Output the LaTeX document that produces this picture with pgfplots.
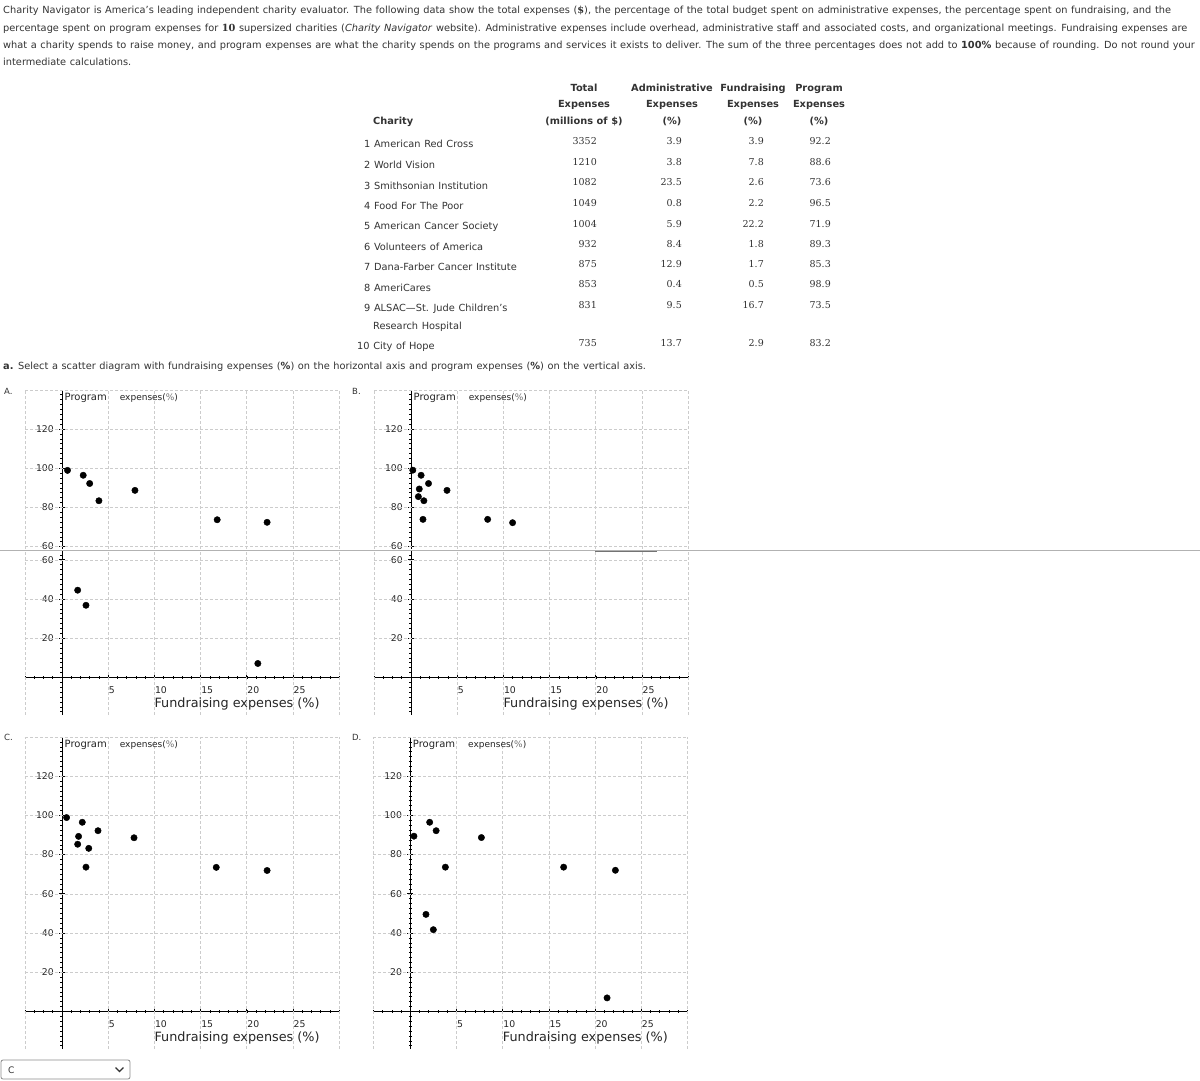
\documentclass[border=0pt]{standalone}
\usepackage{pgfplots}
\pgfplotsset{compat=1.18}
\usepackage{fontspec}
\setmainfont{DejaVu Sans}
\newfontfamily\numfont{DejaVu Serif}
\newcommand\bodyfont{\fontsize{9.8}{11}\selectfont\spaceskip=3.6pt plus 1pt minus 0.5pt\relax}
\newcommand\tickfont{\fontsize{9.3}{10}\selectfont}
\definecolor{txt}{HTML}{333333}
\definecolor{gridc}{HTML}{CCCCCC}

% grid helpers, drawn inside an axis
\newcommand\vgrid[2]{\pgfplotsinvokeforeach{-4,5,10,15,20,25,30}{\draw[gl] (axis cs:##1,#1) -- (axis cs:##1,#2);}}
\newcommand\hgrid[1]{\pgfplotsinvokeforeach{#1}{\draw[gl] (axis cs:-4,##1) -- (axis cs:30,##1);}}
\newcommand\xlab{\node[anchor=north west, inner sep=0pt, font=\fontsize{12.8}{14}\selectfont, text=black!85]
  at (axis cs:10,0) [yshift=-20pt] {Fundraising expenses (\%)};}
\newcommand\ylab{\node[anchor=west, inner sep=0pt, text=black!85]
  at (axis cs:0,136) [xshift=2.5pt] {{\fontsize{10}{10}\selectfont Program}\hspace{13pt}{\fontsize{9}{10}\selectfont expenses(\textcolor{black!55}{\%})}};}

\pgfplotsset{
  sc/.style={
    x=9.24pt, y=1.96pt, xmin=-4, xmax=30,
    anchor=north west,
    axis lines=middle, clip=false,
    axis line style={black, line width=0.8pt},
    every inner x axis line/.append style={-},
    every inner y axis line/.append style={-},
    tick align=center, major tick length=6pt, minor tick length=3pt,
    major tick style={black, line width=0.7pt},
    minor tick style={black, line width=0.5pt},
    /pgf/number format/assume math mode=true,
    ticklabel style={font=\tickfont, text=black!85, inner sep=0pt},
    xticklabel style={anchor=north west, yshift=-6pt, xshift=0.5pt},
    yticklabel style={anchor=east, xshift=-5pt},
    minor ytick={-17.5,-15,...,137.5},
  },
  xfull/.style={xtick={5,10,...,25}, minor xtick={-4,-3,...,30}},
  xnone/.style={xtick=\empty, x axis line style={draw=none}},
  dots/.style={only marks, mark=*, mark size=3.2pt, black},
}
\tikzset{
  gl/.style={gridc, line width=0.6pt, dash pattern=on 3pt off 2pt},
  t/.style={inner sep=0pt, text=txt, font=\bodyfont},
}

\begin{document}
\begin{tikzpicture}
\fill[white] (0,0) rectangle (1200pt,-1080pt);
\useasboundingbox (0,0) rectangle (1200pt,-1080pt);

% intro text
\node[t, anchor=base west] at (3pt,-13pt) {Charity Navigator is America’s leading independent charity evaluator. The following data show the total expenses ({\numfont\bfseries\$}), the percentage of the total budget spent on administrative expenses, the percentage spent on fundraising, and the};
\node[t, anchor=base west] at (3pt,-31pt) {percentage spent on program expenses for {\numfont\bfseries 10} supersized charities (\textit{Charity Navigator} website). Administrative expenses include overhead, administrative staff and associated costs, and organizational meetings. Fundraising expenses are};
\node[t, anchor=base west] at (3pt,-48.5pt) {what a charity spends to raise money, and program expenses are what the charity spends on the programs and services it exists to deliver. The sum of the three percentages does not add to \textbf{100\%} because of rounding. Do not round your};
\node[t, anchor=base west] at (3pt,-65.5pt) {intermediate calculations.};

% table header
\begin{scope}[every node/.style={t, font=\bodyfont\bfseries, anchor=base}]
\node at (584pt,-91pt) {Total};
\node at (584pt,-107pt) {Expenses};
\node at (584pt,-124.5pt) {(millions of \$)};
\node at (672pt,-91pt) {Administrative};
\node at (672pt,-107pt) {Expenses};
\node at (672pt,-124.5pt) {(\%)};
\node at (753pt,-91pt) {Fundraising};
\node at (753pt,-107pt) {Expenses};
\node at (753pt,-124.5pt) {(\%)};
\node at (819pt,-91pt) {Program};
\node at (819pt,-107pt) {Expenses};
\node at (819pt,-124.5pt) {(\%)};
\node[anchor=base west] at (373pt,-124.5pt) {Charity};
\end{scope}

% charity names
\foreach \yb/\nm in {147.5/1 American Red Cross, 168.5/2 World Vision, 189.5/3 Smithsonian Institution,
  209.5/4 Food For The Poor, 229.5/5 American Cancer Society, 250.5/6 Volunteers of America,
  270.5/7 Dana-Farber Cancer Institute, 291.5/8 AmeriCares, 311.5/9 ALSAC—St. Jude Children’s}
  \node[t, anchor=base west] at (364pt,-\yb pt) {\nm};
\node[t, anchor=base west] at (373pt,-329.5pt) {Research Hospital};
\node[t, anchor=base west] at (357pt,-349.5pt) {10 City of Hope};

% table values
\foreach \yb/\tot/\adm/\fun/\pro in {144.5/3352/3.9/3.9/92.2, 165.5/1210/3.8/7.8/88.6, 185.5/1082/23.5/2.6/73.6,
  206.5/1049/0.8/2.2/96.5, 227.5/1004/5.9/22.2/71.9, 247.5/932/8.4/1.8/89.3, 267.5/875/12.9/1.7/85.3,
  287.5/853/0.4/0.5/98.9, 308.5/831/9.5/16.7/73.5, 346.5/735/13.7/2.9/83.2}
{
  \node[t, font=\numfont\fontsize{9.5}{11}\selectfont, anchor=base east] at (597pt,-\yb pt) {\tot};
  \node[t, font=\numfont\fontsize{9.5}{11}\selectfont, anchor=base east] at (682pt,-\yb pt) {\adm};
  \node[t, font=\numfont\fontsize{9.5}{11}\selectfont, anchor=base east] at (764pt,-\yb pt) {\fun};
  \node[t, font=\numfont\fontsize{9.5}{11}\selectfont, anchor=base east] at (831pt,-\yb pt) {\pro};
}

\node[t, anchor=base west] at (3pt,-369pt) {\textbf{a.} Select a scatter diagram with fundraising expenses (\textbf{\%}) on the horizontal axis and program expenses (\textbf{\%}) on the vertical axis.};

% option letters
\node[t, font=\fontsize{8.5}{10}\selectfont, anchor=west] at (4pt,-391pt) {A.};
\node[t, font=\fontsize{8.5}{10}\selectfont, anchor=west] at (352pt,-391pt) {B.};
\node[t, font=\fontsize{8.5}{10}\selectfont, anchor=west] at (4pt,-737pt) {C.};
\node[t, font=\fontsize{8.5}{10}\selectfont, anchor=west] at (352pt,-737pt) {D.};

% ---- A (upper part)
\begin{axis}[sc, xnone, at={(25pt,-389.8pt)}, ymin=58.8, ymax=140, ytick={60,80,...,120}]
  \vgrid{58.8}{140}
  \hgrid{60,80,...,140}
  \addplot[dots] coordinates {(0.6,98.9) (2.3,96.4) (3.0,92.2) (4.0,83.4) (7.9,88.7) (16.8,73.7) (22.2,72.4)};
  \ylab
\end{axis}
% ---- A (lower part)
\begin{axis}[sc, xfull, at={(25pt,-550pt)}, ymin=-19, ymax=65, ytick={20,40,60}]
  \vgrid{-19}{65}
  \hgrid{20,40,60}
  \addplot[dots] coordinates {(1.7,44.5) (2.6,36.8) (21.2,7.1)};
  \xlab
\end{axis}

% ---- B (upper part)
\begin{axis}[sc, xnone, at={(374pt,-389.8pt)}, ymin=58.8, ymax=140, ytick={60,80,...,120}]
  \vgrid{58.8}{140}
  \hgrid{60,80,...,140}
  \addplot[dots] coordinates {(0.2,99.0) (1.1,96.4) (1.9,92.2) (0.9,89.4) (0.8,85.5) (1.4,83.4)
    (3.9,88.7) (1.3,73.9) (8.3,73.9) (11.0,72.2)};
  \ylab
\end{axis}
% ---- B (lower part)
\begin{axis}[sc, xfull, at={(374pt,-550pt)}, ymin=-19, ymax=65, ytick={20,40,60}]
  \vgrid{-19}{65}
  \hgrid{20,40,60}
  \xlab
\end{axis}

% ---- C
\begin{axis}[sc, xfull, at={(25pt,-737pt)}, ymin=-19, ymax=140, ytick={20,40,...,120}]
  \vgrid{-19}{140}
  \hgrid{20,40,...,140}
  \addplot[dots] coordinates {(3.9,92.2) (7.8,88.6) (2.6,73.6) (2.2,96.5) (22.2,71.9)
    (1.8,89.3) (1.7,85.3) (0.5,98.9) (16.7,73.5) (2.9,83.2)};
  \ylab
  \xlab
\end{axis}

% ---- D
\begin{axis}[sc, xfull, at={(373.3pt,-737pt)}, ymin=-19, ymax=140, ytick={20,40,...,120}]
  \vgrid{-19}{140}
  \hgrid{20,40,...,140}
  \addplot[dots] coordinates {(0.4,89.4) (2.1,96.5) (2.8,92.2) (3.8,73.6) (7.7,88.7)
    (16.6,73.6) (22.2,72.0) (1.7,49.5) (2.5,41.7) (21.3,6.9)};
  \ylab
  \xlab
\end{axis}

% screenshot seam across A and B
\draw[black!30, line width=0.8pt] (0pt,-550pt) -- (1200pt,-550pt);
\draw[black!55, line width=0.9pt] (595pt,-551pt) -- (657pt,-551pt);

% answer drop-down
\draw[black!45, line width=0.8pt, rounded corners=2pt] (1pt,-1060pt) rectangle (130pt,-1079pt);
\node[t, font=\fontsize{9}{10}\selectfont, anchor=west] at (8pt,-1070pt) {C};
\draw[black!80, line width=1.2pt] (115.5pt,-1067.5pt) -- (119.5pt,-1071.5pt) -- (123.5pt,-1067.5pt);
\end{tikzpicture}
\end{document}
